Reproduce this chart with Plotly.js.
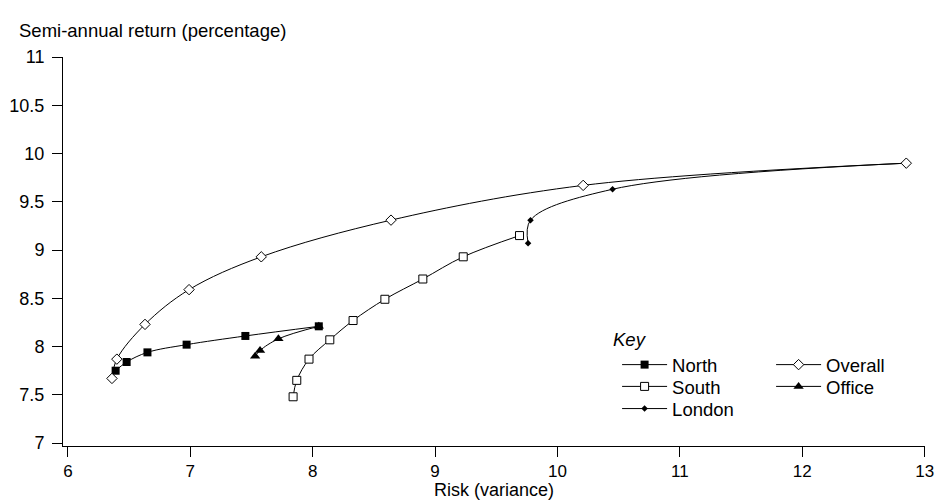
<!DOCTYPE html>
<html>
<head>
<meta charset="utf-8">
<script src="https://cdn.plot.ly/plotly-3.0.1.min.js"></script>
<style>
  html, body { margin: 0; padding: 0; background: #fff; }
  #chart { width: 936px; height: 500px; }
</style>
</head>
<body>
<div id="chart"></div>
<script>
// ---- Data ----
const northX   = [6.39, 6.48, 6.65, 6.97, 7.45, 8.05];
const northY   = [7.75, 7.84, 7.94, 8.02, 8.11, 8.21];
const southX   = [7.84, 7.87, 7.97, 8.14, 8.33, 8.59, 8.90, 9.23, 9.69];
const southY   = [7.48, 7.65, 7.87, 8.07, 8.27, 8.49, 8.70, 8.93, 9.15];
const londonX  = [9.76, 9.78, 10.45, 12.85];
const londonY  = [9.07, 9.31, 9.63, 9.90];
const overallX = [6.36, 6.40, 6.63, 6.99, 7.58, 8.64, 10.21, 12.85];
const overallY = [7.67, 7.87, 8.23, 8.59, 8.93, 9.31, 9.67, 9.90];
const officeX  = [8.05, 7.72, 7.57, 7.53];
const officeY  = [8.21, 8.08, 7.96, 7.90];

const xTicks = [6, 7, 8, 9, 10, 11, 12, 13];
const yTicks = [7, 7.5, 8, 8.5, 9, 9.5, 10, 10.5, 11];
const yTickText = ['7', '7.5', '8', '8.5', '9', '9.5', '10', '10.5', '11'];

const FONT = 'Liberation Sans, Arial, Helvetica, sans-serif';
const lineStyle = { color: '#000', width: 1, shape: 'spline', smoothing: 1 };

const traces = [
  { name: 'North', x: northX, y: northY, mode: 'lines+markers', line: lineStyle,
    marker: { symbol: 'square', size: 8, color: '#000' }, legend: 'legend' },
  { name: 'South', x: southX, y: southY, mode: 'lines+markers', line: lineStyle,
    marker: { symbol: 'square', size: 8, color: '#fff', line: { color: '#000', width: 1 } }, legend: 'legend2' },
  { name: 'London', x: londonX, y: londonY, mode: 'lines+markers', line: lineStyle,
    marker: { symbol: 'diamond', size: 5, color: '#000' }, legend: 'legend3' },
  { name: 'Overall', x: overallX, y: overallY, mode: 'lines+markers', line: lineStyle,
    marker: { symbol: 'diamond', size: 8, color: '#fff', line: { color: '#000', width: 1 } }, legend: 'legend' },
  { name: 'Office', x: officeX, y: officeY, mode: 'lines+markers', line: lineStyle,
    marker: { symbol: 'triangle-up', size: 9, color: '#000' }, legend: 'legend2' }
];

function rowLegend(y) {
  return {
    orientation: 'h', x: 0.6428, xanchor: 'left', y: y, yanchor: 'middle',
    bgcolor: 'rgba(0,0,0,0)', borderwidth: 0,
    font: { family: FONT, size: 18.5, color: '#000' },
    entrywidth: 94, itemwidth: 45
  };
}

const layout = {
  width: 936, height: 500,
  margin: { l: 63, r: 11, t: 57, b: 54 },
  paper_bgcolor: '#fff', plot_bgcolor: '#fff',
  font: { family: FONT, size: 18, color: '#000' },
  showlegend: true,
  legend: rowLegend(0.208),
  legend2: rowLegend(0.152),
  legend3: rowLegend(0.095),
  xaxis: {
    range: [5.96, 13.003], tickvals: xTicks, ticks: 'outside', ticklen: 10, tickwidth: 1,
    tickcolor: '#000', showline: true, linecolor: '#000', linewidth: 1,
    showgrid: false, zeroline: false, automargin: false, ticklabeloverflow: 'allow',
    tickfont: { family: FONT, size: 17, color: '#000' },
    title: { text: 'Risk (variance)', font: { family: FONT, size: 18, color: '#000' }, standoff: 0 }
  },
  yaxis: {
    range: [6.97, 11], tickvals: yTicks, ticktext: yTickText, ticks: 'outside', ticklen: 10, tickwidth: 1,
    tickcolor: '#000', showline: true, linecolor: '#000', linewidth: 1,
    showgrid: false, zeroline: false, automargin: false, ticklabelstandoff: 4,
    tickfont: { family: FONT, size: 18, color: '#000' }
  },
  annotations: [
    { text: 'Semi-annual return (percentage)', xref: 'paper', yref: 'paper',
      x: -0.0534, y: 1.067, xanchor: 'left', yanchor: 'middle', showarrow: false,
      font: { family: FONT, size: 18.5, color: '#000' } },
    { text: '<i>Key</i>', xref: 'paper', yref: 'paper',
      x: 0.636, y: 0.275, xanchor: 'left', yanchor: 'middle', showarrow: false,
      font: { family: FONT, size: 18.5, color: '#000' } }
  ]
};

Plotly.newPlot('chart', traces, layout, { displayModeBar: false, staticPlot: true });
</script>
</body>
</html>
